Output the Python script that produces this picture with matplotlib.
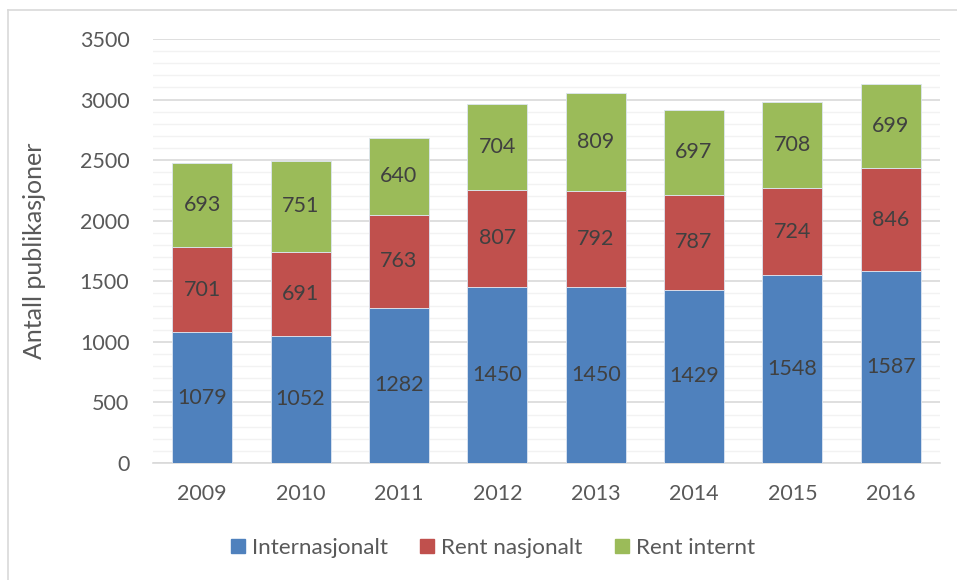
import matplotlib
matplotlib.use("Agg")
import matplotlib.pyplot as plt
from matplotlib.lines import Line2D
from matplotlib.ticker import MultipleLocator
import numpy as np

plt.rcParams['font.family'] = ['Lato', 'DejaVu Sans']

years = ['2009', '2010', '2011', '2012', '2013', '2014', '2015', '2016']
internasjonalt = [1079, 1052, 1282, 1450, 1450, 1429, 1548, 1587]
rent_nasjonalt = [701, 691, 763, 807, 792, 787, 724, 846]
rent_internt = [693, 751, 640, 704, 809, 697, 708, 699]
series_names = ['Internasjonalt', 'Rent nasjonalt', 'Rent internt']
colors = ['#4F81BD', '#C0504D', '#9BBB59']
text_color = '#404040'
tick_color = '#595959'

fig = plt.figure(figsize=(9.57, 5.80), dpi=100)
ax = fig.add_axes([153/957, 1-463/580, (940-153)/957, (463-39)/580])

x = np.arange(len(years))
bottom = np.zeros(len(years))
for vals, name, c in zip([internasjonalt, rent_nasjonalt, rent_internt], series_names, colors):
    ax.bar(x, vals, width=0.61, bottom=bottom, color=c, label=name,
           edgecolor='#dde6f2', linewidth=0.6, zorder=3)
    for xi, b, v in zip(x, bottom, vals):
        ax.text(xi, b + v/2, str(v), ha='center', va='center', fontsize=15.5,
                color=text_color, zorder=4)
    bottom = bottom + np.array(vals)

ax.set_xlim(-0.5, len(years) - 0.5)
ax.set_ylim(0, 3500)
ax.yaxis.set_major_locator(MultipleLocator(500))
ax.yaxis.set_minor_locator(MultipleLocator(100))
ax.grid(which='major', axis='y', color='#d9d9d9', linewidth=1.2, zorder=0)
ax.grid(which='minor', axis='y', color='#f2f2f2', linewidth=1.0, zorder=0)
ax.set_xticks(x)
ax.set_xticklabels(years)
for s in ['top', 'right', 'left']:
    ax.spines[s].set_visible(False)
ax.spines['bottom'].set_color('#d9d9d9')
ax.spines['bottom'].set_linewidth(1.2)
ax.tick_params(axis='both', which='both', length=0, labelsize=15.5, colors=tick_color)
ax.tick_params(axis='y', pad=17)
ax.tick_params(axis='x', pad=15)
ax.set_ylabel('Antall publikasjoner', fontsize=18, color=tick_color)
ax.yaxis.set_label_coords(-0.136, 0.5)

handles = [plt.Rectangle((0, 0), 1, 1, color=c) for c in colors]
fig.legend(handles, series_names, loc='center', bbox_to_anchor=(493/957, 1-548/580),
           ncol=3, frameon=False, fontsize=16.2, labelcolor=tick_color,
           handlelength=0.62, handleheight=0.62, handletextpad=0.3, columnspacing=1.45)

fig.add_artist(Line2D([8/957, 8/957], [0, 1-10/580], transform=fig.transFigure,
                      color='#d9d9d9', linewidth=1.2))
fig.add_artist(Line2D([8/957, 1], [1-10/580, 1-10/580], transform=fig.transFigure,
                      color='#d9d9d9', linewidth=1.2))

fig.savefig('out.png', dpi=100)
